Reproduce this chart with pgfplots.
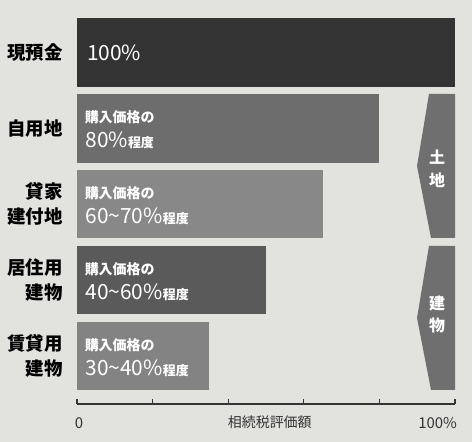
\documentclass[border=0pt]{standalone}
\usepackage{fontspec}
\setmainfont{Noto Sans CJK JP}
\usepackage{pgfplots}
\pgfplotsset{compat=1.18}
\definecolor{bg}{HTML}{E2E2DF}
\definecolor{axisc}{HTML}{333333}
\definecolor{cA}{HTML}{333333}
\definecolor{cB}{HTML}{6D6D6D}
\definecolor{cC}{HTML}{888888}
\definecolor{cD}{HTML}{5A5A5A}
\definecolor{cE}{HTML}{838383}
\definecolor{cBr}{HTML}{6F6F6F}
\tikzset{
  lineA/.style={anchor=base west, text=white, font=\bfseries\fontsize{14}{14}\selectfont, inner sep=0pt},
  lineB/.style={anchor=base west, text=white, inner sep=0pt},
}
\newcommand{\num}[1]{{\fontsize{21}{21}\selectfont #1\fontsize{13}{13}\selectfont\bfseries 程度}}
\begin{document}
\begin{tikzpicture}
\fill[bg] (0,0) rectangle (472bp,442bp);
\begin{axis}[
  at={(77bp,38bp)}, anchor=south west,
  scale only axis, width=378bp, height=404bp,
  xbar, bar width=0.9, bar shift=0pt,
  xmin=0, xmax=100, ymin=-0.633, ymax=4.692,
  axis x line*=bottom, axis y line*=left,
  y axis line style={draw=none},
  x axis line style={-, line width=1.3bp, color=axisc},
  xtick={0,20,...,100}, xticklabels={0,,,,,\llap{100\%}},
  xtick style={line width=1.1bp, color=axisc},
  major tick length=5bp, tick align=inside,
  ytick={0,...,4},
  yticklabels={{賃貸用\\建物},{居住用\\建物},{貸家\\建付地},{自用地},{現預金}},
  ytick style={draw=none},
  yticklabel style={align=right, font=\bfseries\fontsize{18.5}{25}\selectfont, inner sep=0pt, xshift=-14bp},
  xticklabel style={font=\fontsize{15}{15}\selectfont, inner sep=0pt, yshift=-13bp, xshift=2bp, text=axisc},
  xlabel={相続税評価額},
  xlabel style={at={(rel axis cs:0.51,0)}, anchor=north, inner sep=0pt, yshift=-12bp, font=\fontsize{14}{14}\selectfont, text=axisc},
  clip=false,
]
\addplot[fill=cA, draw=none] coordinates {(100,4)};
\addplot[fill=cB, draw=none] coordinates {(80,3)};
\addplot[fill=cC, draw=none] coordinates {(65,2)};
\addplot[fill=cD, draw=none] coordinates {(50,1)};
\addplot[fill=cE, draw=none] coordinates {(35,0)};

\node[anchor=base west, text=white, font=\fontsize{21}{21}\selectfont, inner sep=0pt] at (axis cs:2.6,3.901) {100\%};

\node[lineA] at (axis cs:2.0,3.072) {購入価格の};
\node[lineB] at (axis cs:2.2,2.743) {\num{80\%}};
\node[lineA] at (axis cs:2.0,2.072) {購入価格の};
\node[lineB] at (axis cs:2.2,1.743) {\num{60\textasciitilde 70\%}};
\node[lineA] at (axis cs:2.0,1.072) {購入価格の};
\node[lineB] at (axis cs:2.2,0.743) {\num{40\textasciitilde 60\%}};
\node[lineA] at (axis cs:2.0,0.072) {購入価格の};
\node[lineB] at (axis cs:2.2,-0.257) {\num{30\textasciitilde 40\%}};

\fill[cBr] (axis cs:93.12,3.453) -- (axis cs:100,3.453) -- (axis cs:100,1.555) -- (axis cs:93.65,1.555) -- (axis cs:89.95,2.504) -- cycle;
\fill[cBr] (axis cs:93.12,1.450) -- (axis cs:100,1.450) -- (axis cs:100,-0.448) -- (axis cs:93.65,-0.448) -- (axis cs:89.95,0.501) -- cycle;
\node[align=center, text=white, font=\bfseries\fontsize{16}{23}\selectfont, inner sep=0pt] at (axis cs:95.24,2.471) {土\\地};
\node[align=center, text=white, font=\bfseries\fontsize{16}{23}\selectfont, inner sep=0pt] at (axis cs:95.24,0.547) {建\\物};
\end{axis}
\pgfresetboundingbox
\path[use as bounding box] (0,0) rectangle (472bp,442bp);
\end{tikzpicture}
\end{document}
